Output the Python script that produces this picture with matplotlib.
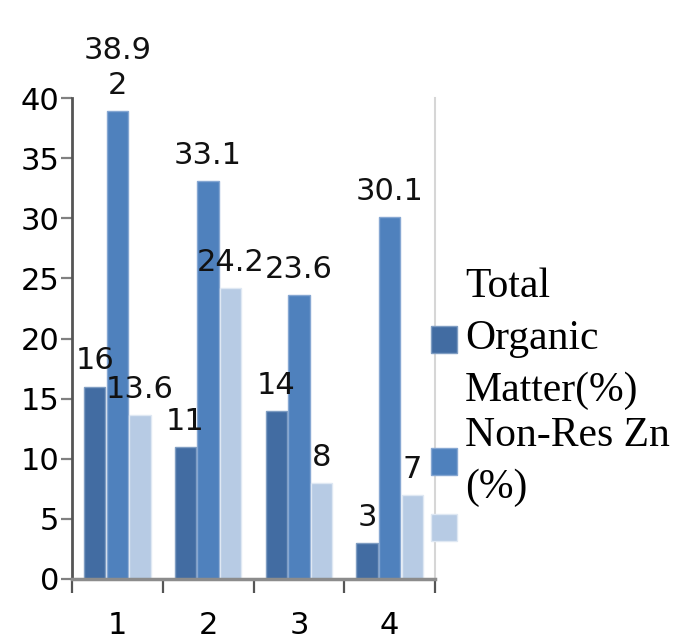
import matplotlib.pyplot as plt
import numpy as np

# sample groups and the three measured series
groups = ['1', '2', '3', '4']
organic = [16, 11, 14, 3]
non_res_zn = [38.92, 33.1, 23.6, 30.1]
third = [13.6, 24.2, 8, 7]

names = ['Total\nOrganic\nMatter(%)', 'Non-Res Zn\n(%)', ' ']
colors = ['#426ca2', '#4f81bd', '#b7cbe4']
edges = ['#7f9dc2', '#86a7d2', '#dfe8f3']


def wrap_label(v):
    s = f'{v:g}'
    if len(s) > 4:		# long numbers wrap onto a second line
        s = s[:4] + '\n' + s[4:]
    return s


fig = plt.figure(figsize=(6.74, 6.41), dpi=100)
ax = fig.add_axes([72/674, 62/641, (435-72)/674, (579-98)/641])

x = np.arange(1, len(groups) + 1)
w = 0.235
step = 0.25
for i, vals in enumerate([organic, non_res_zn, third]):
    bars = ax.bar(x + (i - 1)*step, vals, w, color=colors[i], edgecolor=edges[i],
                  linewidth=1, label=names[i], zorder=2)
    for b, v in zip(bars, vals):
        ax.annotate(wrap_label(v), (b.get_x() + b.get_width()/2, v),
                    xytext=(0, 8), textcoords='offset points', ha='center', va='bottom',
                    fontsize=22, family='DejaVu Sans', color='#111111',
                    linespacing=1.25, zorder=3)

ax.set_xlim(0.5, 4.5)
ax.set_ylim(0, 40)
ax.set_yticks(range(0, 41, 5))
ax.set_xticks(x)
ax.set_xticklabels(groups)
ax.set_xticks(np.arange(0.5, 4.6, 1), minor=True)

ax.tick_params(axis='y', direction='out', length=8, width=1.6, color='#808080',
               labelsize=22, pad=1)
ax.tick_params(axis='x', which='major', length=0, labelsize=22, pad=23)
ax.tick_params(axis='x', which='minor', direction='out', length=10, width=1.6, color='#555555')

ax.spines['top'].set_visible(False)
ax.spines['left'].set_color('#555555')
ax.spines['left'].set_linewidth(2)
ax.spines['bottom'].set_color('#8c8c8c')
ax.spines['bottom'].set_linewidth(2.5)
ax.spines['right'].set_color('#d6d6d6')
ax.spines['right'].set_linewidth(1.5)

leg = ax.legend(loc='upper left', bbox_to_anchor=(431/674, 0.582), bbox_transform=fig.transFigure,
                frameon=False, prop={'family': 'Liberation Serif', 'size': 30},
                handlelength=0.62, handleheight=0.62, handletextpad=0.2,
                labelspacing=0.15, borderpad=0, borderaxespad=0)
for t in leg.get_texts():
    t.set_linespacing(1.45)

fig.savefig('out.png', dpi=100)
